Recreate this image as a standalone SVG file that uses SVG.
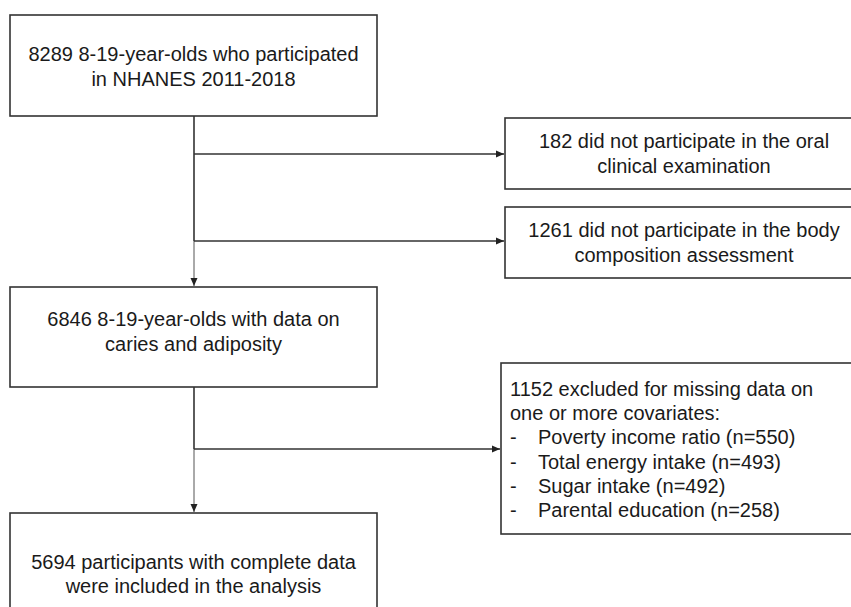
<svg xmlns="http://www.w3.org/2000/svg" width="851" height="607" viewBox="0 0 851 607">
<defs>
<style>
.box{fill:#fff;stroke:#333;stroke-width:1.6}
.t{font-family:"Liberation Sans",Arial,sans-serif;font-size:20px;fill:#1a1a1a}
.c{text-anchor:middle}
.ln{fill:none;stroke:#333;stroke-width:1.6}
.thin{fill:none;stroke:#555;stroke-width:1}
</style>
<marker id="ah" markerUnits="userSpaceOnUse" markerWidth="8" markerHeight="8" viewBox="0 0 8 8" refX="8" refY="4" orient="auto">
<path d="M0,0.5 L8,4 L0,7.5 Z" fill="#222"/>
</marker>
</defs>
<rect width="851" height="607" fill="#fff"/>
<g id="connectors">
<path class="ln" d="M194,116 V241"/>
<path class="thin" d="M194,241 V286" marker-end="url(#ah)"/>
<path class="ln" d="M194,154 H504" marker-end="url(#ah)"/>
<path class="ln" d="M194,241 H504" marker-end="url(#ah)"/>
<path class="ln" d="M194,387 V449"/>
<path class="thin" d="M194,449 V512" marker-end="url(#ah)"/>
<path class="ln" d="M194,449 H500" marker-end="url(#ah)"/>
</g>
<g id="n1">
<rect class="box" x="10" y="15" width="367" height="101"/>
<text class="t c" x="193.5" y="61">8289 8-19-year-olds who participated</text>
<text class="t c" x="193.5" y="86">in NHANES 2011-2018</text>
</g>
<g id="n2">
<rect class="box" x="505" y="118" width="360" height="71"/>
<text class="t c" x="684" y="148">182 did not participate in the oral</text>
<text class="t c" x="684" y="173">clinical examination</text>
</g>
<g id="n3">
<rect class="box" x="505" y="207" width="360" height="71"/>
<text class="t c" x="684" y="237">1261 did not participate in the body</text>
<text class="t c" x="684" y="262">composition assessment</text>
</g>
<g id="n4">
<rect class="box" x="10" y="287" width="367" height="100"/>
<text class="t c" x="193.5" y="326">6846 8-19-year-olds with data on</text>
<text class="t c" x="193.5" y="351">caries and adiposity</text>
</g>
<g id="n5">
<rect class="box" x="501" y="363" width="360" height="171"/>
<text class="t" x="510" y="396">1152 excluded for missing data on</text>
<text class="t" x="510" y="420">one or more covariates:</text>
<text class="t" x="510" y="444">-</text><text class="t" x="538" y="444">Poverty income ratio (n=550)</text>
<text class="t" x="510" y="469">-</text><text class="t" x="538" y="469">Total energy intake (n=493)</text>
<text class="t" x="510" y="493">-</text><text class="t" x="538" y="493">Sugar intake (n=492)</text>
<text class="t" x="510" y="517">-</text><text class="t" x="538" y="517">Parental education (n=258)</text>
</g>
<g id="n6">
<rect class="box" x="10" y="513" width="367" height="110"/>
<text class="t c" x="193.5" y="569">5694 participants with complete data</text>
<text class="t c" x="193.5" y="593">were included in the analysis</text>
</g>
</svg>
